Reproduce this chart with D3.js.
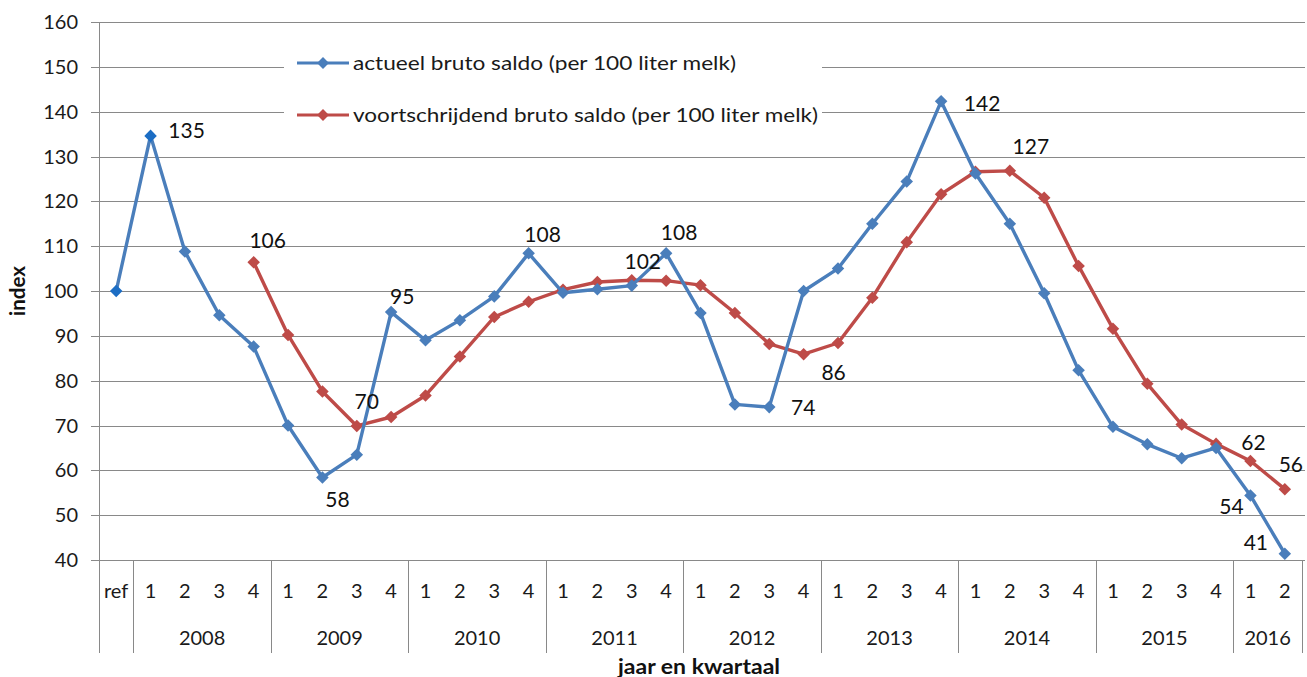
<!DOCTYPE html>
<html>
<head>
<meta charset="utf-8">
<script src="https://cdn.jsdelivr.net/npm/d3@7"></script>
<style>
  html, body { margin: 0; padding: 0; background: #fff; }
  svg { display: block; font-family: Lato, "Open Sans", sans-serif; }
</style>
</head>
<body>
<svg id="chart" width="1307" height="677"></svg>
<script>
// ---------- DATA ----------
const years = ["2008", "2009", "2010", "2011", "2012", "2013", "2014", "2015", "2016"];
const quarterCounts = [4, 4, 4, 4, 4, 4, 4, 4, 2];
const categories = ["ref",
  "2008-1","2008-2","2008-3","2008-4",
  "2009-1","2009-2","2009-3","2009-4",
  "2010-1","2010-2","2010-3","2010-4",
  "2011-1","2011-2","2011-3","2011-4",
  "2012-1","2012-2","2012-3","2012-4",
  "2013-1","2013-2","2013-3","2013-4",
  "2014-1","2014-2","2014-3","2014-4",
  "2015-1","2015-2","2015-3","2015-4",
  "2016-1","2016-2"];
const categoryLabels = ["ref",
  "1","2","3","4", "1","2","3","4", "1","2","3","4", "1","2","3","4",
  "1","2","3","4", "1","2","3","4", "1","2","3","4", "1","2","3","4", "1","2"];
const actueel = [100,
  134.6, 108.8, 94.6, 87.6,
  70.0, 58.4, 63.5, 95.3,
  89.0, 93.5, 98.8, 108.4,
  99.6, 100.4, 101.2, 108.4,
  95.1, 74.7, 74.1, 100.0,
  105.0, 115.0, 124.4, 142.3,
  126.2, 115.0, 99.5, 82.3,
  69.7, 65.8, 62.7, 65.0,
  54.4, 41.4];
const voortschrijdend = [null,
  null, null, null, 106.4,
  90.2, 77.6, 69.9, 71.9,
  76.7, 85.4, 94.2, 97.6,
  100.3, 102.0, 102.4, 102.3,
  101.3, 95.1, 88.2, 85.9,
  88.4, 98.5, 110.9, 121.6,
  126.6, 126.8, 120.8, 105.6,
  91.6, 79.3, 70.2, 65.9,
  62.1, 55.8];
const seriesNames = ["actueel bruto saldo (per 100 liter melk)",
                     "voortschrijdend bruto saldo (per 100 liter melk)"];
const yTicks = [40, 50, 60, 70, 80, 90, 100, 110, 120, 130, 140, 150, 160];
// data labels: which series, which category index, shown text
const labelSeries = ["a","a","a","a","a","a","a","a","a","v","v","v","v","v","v","v"];
const labelIndex  = [1, 6, 8, 12, 16, 19, 24, 33, 34, 4, 7, 15, 20, 26, 33, 34];
const labelText   = ["135","58","95","108","108","74","142","54","41","106","70","102","86","127","62","56"];

// ---------- LAYOUT / STYLE ----------
const labelOffsets = [[36,-5],[15,22],[11,-15],[14,-19],[13,-21],[34,1],[41,2],[-19,11],[-29,-11],
                      [14,-22],[10,-24],[11,-19],[30,18],[21,-24],[3,-18],[6,-25]];
const legendWidths = [383, 465];
const plot = { left: 99, right: 1302, top: 22, bottom: 560 };
const blue = "#4A7EBB", red = "#BE4B48", darkBlue = "#1C6DC4";
const grid = "#898989";
const txt = "#1a1a1a";

const svg = d3.select("#chart");

const x = d3.scaleBand().domain(categories).range([plot.left, plot.right]).padding(0);
const y = d3.scaleLinear().domain([40, 160]).range([plot.bottom, plot.top]);
const cx = c => x(c) + x.bandwidth() / 2;

// gridlines
svg.append("g").selectAll("line").data(yTicks).join("line")
  .attr("x1", plot.left - 8).attr("x2", plot.right + 3)
  .attr("y1", d => Math.round(y(d)) + 0.5).attr("y2", d => Math.round(y(d)) + 0.5)
  .attr("stroke", grid).attr("stroke-width", 1);

// y axis line
svg.append("line").attr("x1", plot.left + 0.5).attr("x2", plot.left + 0.5)
  .attr("y1", plot.top).attr("y2", 653).attr("stroke", grid);

// y tick labels
svg.append("g").selectAll("text").data(yTicks).join("text")
  .attr("x", 78).attr("y", d => y(d)).attr("dy", "0.35em")
  .attr("text-anchor", "end").attr("font-size", 20).attr("fill", txt)
  .text(d => d);

// x axis table: boundaries
const boundaries = [categories[1]];
let k = 1;
quarterCounts.forEach(n => { k += n; if (k < categories.length) boundaries.push(categories[k]); });
svg.append("g").selectAll("line").data(boundaries).join("line")
  .attr("x1", d => Math.round(x(d)) + 0.5).attr("x2", d => Math.round(x(d)) + 0.5)
  .attr("y1", plot.bottom).attr("y2", 653).attr("stroke", grid);
svg.append("line").attr("x1", plot.right + 0.5).attr("x2", plot.right + 0.5)
  .attr("y1", plot.bottom).attr("y2", 653).attr("stroke", grid);

// quarter labels
svg.append("g").selectAll("text").data(categories).join("text")
  .attr("x", d => cx(d)).attr("y", 591).attr("dy", "0.35em")
  .attr("text-anchor", "middle").attr("font-size", 20).attr("fill", txt)
  .text((d, i) => categoryLabels[i]);

// year labels
let start = 1;
const yearPos = years.map((yr, i) => {
  const first = categories[start], last = categories[start + quarterCounts[i] - 1];
  start += quarterCounts[i];
  return { yr, mid: (x(first) + x(last) + x.bandwidth()) / 2 };
});
svg.append("g").selectAll("text").data(yearPos).join("text")
  .attr("x", d => d.mid).attr("y", 638).attr("dy", "0.35em")
  .attr("text-anchor", "middle").attr("font-size", 20).attr("fill", txt)
  .text(d => d.yr);

// axis titles
svg.append("text").attr("x", 699).attr("y", 667).attr("dy", "0.35em")
  .attr("text-anchor", "middle").attr("font-size", 20.5).attr("font-weight", "bold")
  .attr("fill", "#111").attr("textLength", 162).attr("lengthAdjust", "spacingAndGlyphs")
  .text("jaar en kwartaal");
svg.append("text").attr("transform", "translate(18,291) rotate(-90)").attr("dy", "0.35em")
  .attr("text-anchor", "middle").attr("font-size", 20.5).attr("font-weight", "bold")
  .attr("fill", "#111").text("index");

// legend (white box over gridlines)
const lg = svg.append("g");
lg.append("rect").attr("x", 284).attr("y", 40).attr("width", 538).attr("height", 90).attr("fill", "#fff");
const legendRows = [{ name: seriesNames[0], color: blue, y: 63, w: legendWidths[0] },
                    { name: seriesNames[1], color: red, y: 115, w: legendWidths[1] }];
legendRows.forEach(r => {
  lg.append("line").attr("x1", 297).attr("x2", 349).attr("y1", r.y).attr("y2", r.y)
    .attr("stroke", r.color).attr("stroke-width", 3.2);
  lg.append("path").attr("d", d3.symbol(d3.symbolDiamond2, 90)())
    .attr("transform", `translate(323,${r.y})`).attr("fill", r.color);
  lg.append("text").attr("x", 353).attr("y", r.y).attr("dy", "0.35em")
    .attr("font-size", 20).attr("fill", txt)
    .attr("textLength", r.w).attr("lengthAdjust", "spacingAndGlyphs").text(r.name);
});

// lines
function drawSeries(values, color, markerColor) {
  const pts = values.map((v, i) => ({ c: categories[i], v, i })).filter(d => d.v !== null);
  const line = d3.line().x(d => cx(d.c)).y(d => y(d.v));
  svg.append("path").datum(pts).attr("d", line)
    .attr("fill", "none").attr("stroke", color).attr("stroke-width", 3.4)
    .attr("stroke-linejoin", "round");
  svg.append("g").selectAll("path").data(pts).join("path")
    .attr("d", d3.symbol(d3.symbolDiamond2, 100)())
    .attr("transform", d => `translate(${cx(d.c)},${y(d.v)})`)
    .attr("fill", d => markerColor(d.i));
}
drawSeries(voortschrijdend, red, () => red);
drawSeries(actueel, blue, i => (i <= 1 ? darkBlue : blue));

// data labels
const labels = labelText.map((t, j) => {
  const vals = labelSeries[j] === "a" ? actueel : voortschrijdend;
  const c = categories[labelIndex[j]];
  return { t, px: cx(c), py: y(vals[labelIndex[j]]), off: labelOffsets[j] };
});
svg.append("g").selectAll("text").data(labels).join("text")
  .attr("x", d => d.px + d.off[0]).attr("y", d => d.py + d.off[1]).attr("dy", "0.35em")
  .attr("text-anchor", "middle").attr("font-size", 21).attr("fill", "#111")
  .text(d => d.t);
</script>
</body>
</html>
